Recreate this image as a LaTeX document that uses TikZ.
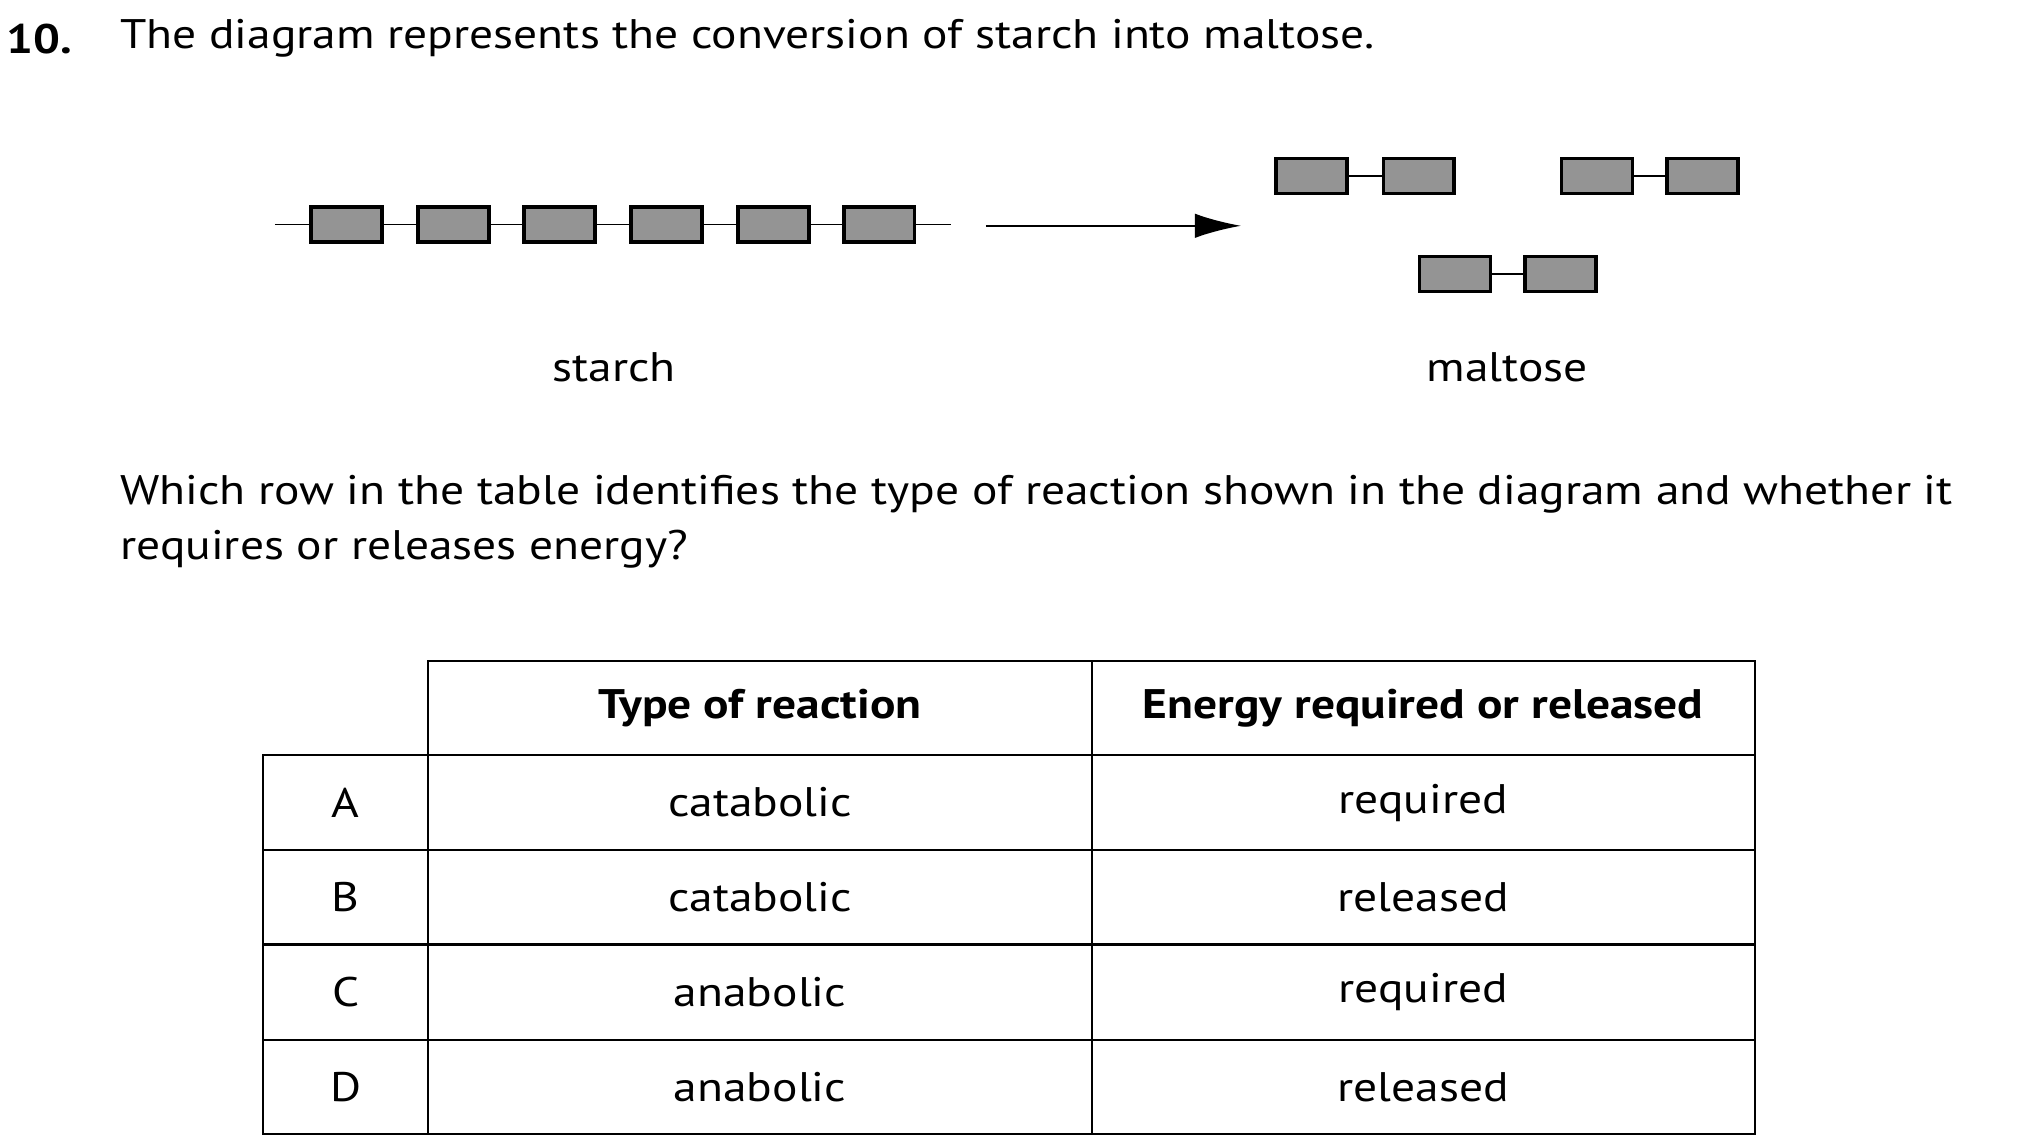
\documentclass[tikz,border=0pt]{standalone}
\usepackage{fontspec}
\setmainfont[FakeStretch=1.15]{PT Sans}
\usetikzlibrary{arrows.meta}
\begin{document}
\begin{tikzpicture}[x=1pt,y=-1pt,
  unit/.style={draw=black,line width=2.6pt,fill=black!42,minimum width=55pt,minimum height=27pt,inner sep=0pt},
  txt/.style={font=\fontsize{32}{38}\selectfont,inner sep=0pt},
  cell/.style={font=\fontsize{32}{38}\selectfont,inner sep=0pt},
  hd/.style={font=\fontsize{32}{38}\selectfont\bfseries,inner sep=0pt}]
\useasboundingbox (0,0) rectangle (1564,886);
\node[txt,font=\fontsize{32}{38}\selectfont\bfseries,anchor=west] (num) at (5,30) {10.};
\node[txt,anchor=west] (title) at (93,30) {The diagram represents the conversion of starch into maltose.};
% starch chain
\coordinate (sl) at (213,174); \coordinate (sr) at (737,174);
\draw[line width=1.2pt] (sl) -- (sr);
\foreach \i/\x in {1/268.5,2/351.5,3/433.5,4/516.5,5/599.5,6/681.5}
  \node[unit] (s\i) at (\x,174) {};
\node[txt] (starch) at (476,285) {starch};
% arrow
\coordinate (a1) at (764,175); \coordinate (a2) at (962,175);
\draw[line width=2pt,-{Latex[length=36pt,width=19pt]}] (a1) -- (a2);
% maltose
\foreach \n/\xa/\xb/\y in {m1/1016.5/1099.5/136.5, m2/1237.5/1319.5/136.5, m3/1127.5/1209.5/212.5}{
  \node[unit] (\n a) at (\xa,\y) {};
  \node[unit] (\n b) at (\xb,\y) {};
  \draw[line width=1.2pt] (\n a) -- (\n b);
}
\node[txt] (maltose) at (1168,285) {maltose};
\node[txt,anchor=west] (q1) at (93,383) {Which row in the table identifies the type of reaction shown in the diagram and whether it};
\node[txt,anchor=west] (q2) at (93,426) {requires or releases energy?};
% table
\draw[line width=1.6pt] (332,512) -- (1360,512) -- (1360,879) -- (204,879) -- (204,585) -- (332,585) -- cycle;
\foreach \y in {585,659,732,806} \draw[line width=1.6pt] (204,\y) -- (1360,\y);
\draw[line width=1.6pt] (332,512) -- (332,879);
\draw[line width=1.6pt] (846,512) -- (846,879);
\node[hd] (h1) at (589,549) {Type of reaction};
\node[hd] (h2) at (1103,549) {Energy required or released};
\foreach \l/\t/\e/\y in {A/catabolic/required/622, B/catabolic/released/695.5, C/anabolic/required/769, D/anabolic/released/842.5}{
  \node[cell] (r\l) at (268,\y) {\l};
  \node[cell] (t\l) at (589,\y) {\t};
  \node[cell] (e\l) at (1103,\y) {\e};
}
\end{tikzpicture}
\end{document}
